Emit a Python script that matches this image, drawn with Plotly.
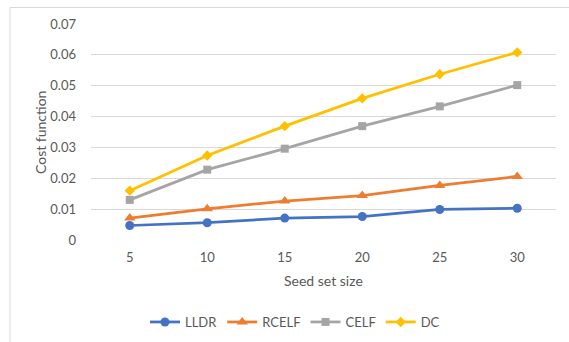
import plotly.graph_objects as go

categories = ["5", "10", "15", "20", "25", "30"]
lldr = [0.0047, 0.0056, 0.0071, 0.0076, 0.0099, 0.0103]
rcelf = [0.0071, 0.0101, 0.0126, 0.0144, 0.0177, 0.0206]
celf = [0.0130, 0.0228, 0.0296, 0.0369, 0.0433, 0.0502]
dc = [0.0160, 0.0274, 0.0369, 0.0459, 0.0537, 0.0608]
y_ticks = [0, 0.01, 0.02, 0.03, 0.04, 0.05, 0.06, 0.07]
y_tick_labels = ["0", "0.01", "0.02", "0.03", "0.04", "0.05", "0.06", "0.07"]

series = [
    ("LLDR", lldr, "#4472C4", "circle", 9),
    ("RCELF", rcelf, "#ED7D31", "triangle-up", 10),
    ("CELF", celf, "#A5A5A5", "square", 8),
    ("DC", dc, "#FFC000", "diamond", 8),
]

fig = go.Figure()
for name, vals, color, sym, size in series:
    fig.add_trace(go.Scatter(
        x=categories, y=vals, name=name, mode="lines+markers",
        line=dict(color=color, width=2.75),
        marker=dict(symbol=sym, size=size, color=color),
    ))

L, R, T, B = 91, 13, 24, 102
PW, PH = 569 - L - R, 342 - T - B

font_family = "Lato, 'Open Sans', sans-serif"
fig.update_layout(
    width=569, height=342,
    margin=dict(l=L, r=R, t=T, b=B, autoexpand=False),
    paper_bgcolor="white", plot_bgcolor="white",
    font=dict(family=font_family, size=13, color="#595959"),
    showlegend=True,
    legend=dict(orientation="h", x=(295 - L) / PW, xanchor="center",
                y=(240 - 322) / PH, yanchor="middle",
                font=dict(size=13, color="#595959"), itemwidth=30, tracegroupgap=0),
    xaxis=dict(type="category", range=[-0.5, 5.5], showgrid=False, zeroline=False,
               showline=False, ticks="", automargin=False, ticklabelstandoff=8,
               tickfont=dict(size=13, color="#595959")),
    yaxis=dict(range=[0, 0.07], tickvals=y_ticks, ticktext=y_tick_labels,
               showgrid=True, gridcolor="#D9D9D9", gridwidth=1, zeroline=False,
               showline=False, ticks="", ticklabelstandoff=14, automargin=False,
               tickfont=dict(size=13, color="#595959")),
)
fig.add_annotation(text="Seed set size", xref="paper", yref="paper",
                   x=(323 - L) / PW, y=(240 - 280) / PH, xanchor="center", yanchor="middle",
                   showarrow=False, font=dict(size=14, color="#595959"))
fig.add_annotation(text="Cost function", xref="paper", yref="paper",
                   x=(40 - L) / PW, y=(240 - 133) / PH, xanchor="center", yanchor="middle",
                   textangle=-90, showarrow=False, font=dict(size=14, color="#595959"))
fig.add_shape(type="rect", xref="paper", yref="paper",
              x0=(10 - L) / PW, x1=1.1, y0=-0.6, y1=(240 - 7.5) / PH,
              line=dict(color="#D9D9D9", width=1), fillcolor="rgba(0,0,0,0)", layer="below")

fig.write_html("out.html", config={"displayModeBar": False},
               post_script="document.body.style.margin='0px';")
